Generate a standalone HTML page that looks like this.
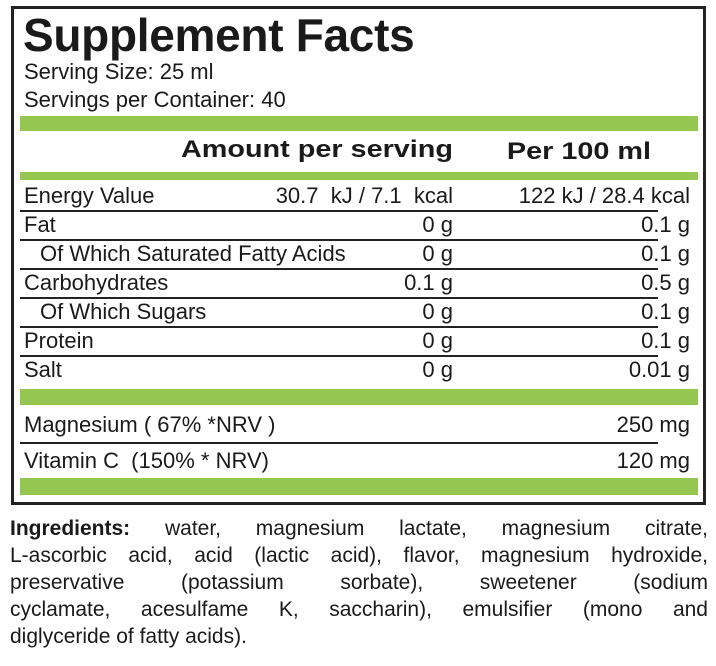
<!DOCTYPE html>
<html><head><style>
body{margin:0;width:716px;height:666px;background:#fff;position:relative;font-family:"Liberation Sans",sans-serif;color:#1a1a1a;overflow:hidden}
.box{position:absolute;left:11px;top:6px;width:689px;height:493px;border:3px solid #222}
.g{position:absolute;left:20px;width:678px;background:#96c652}
.l{position:absolute;left:20px;width:638px;height:2px;background:#222}
.t{position:absolute;white-space:nowrap;font-size:22px;line-height:1}
.r{text-align:right}
.h{transform:scaleX(1.2);transform-origin:right center}
.ing{position:absolute;left:10px;width:698px;font-size:21px;line-height:1;text-align:justify;text-align-last:justify;white-space:nowrap}
</style></head><body>
<div class="box"></div>
<div class="t" style="left:23px;top:12px;font-size:46px;font-weight:bold;letter-spacing:-0.3px">Supplement Facts</div>
<div class="t" style="left:24px;top:61px">Serving Size: 25 ml</div>
<div class="t" style="left:24px;top:89px">Servings per Container: 40</div>
<div class="g" style="top:116px;height:15px"></div>
<div class="t h" style="left:100px;top:138px;font-weight:bold;font-size:24px;width:353px;text-align:right">Amount per serving</div>
<div class="t h" style="left:450px;top:140px;font-weight:bold;font-size:24px;width:201px;text-align:right">Per 100 ml</div>
<div class="g" style="top:172px;height:8px"></div>

<div class="t" style="left:24px;top:185px">Energy Value</div>
<div class="t r" style="left:200px;width:253px;top:185px">30.7&nbsp; kJ / 7.1&nbsp; kcal</div>
<div class="t r" style="left:440px;width:250px;top:185px">122 kJ / 28.4 kcal</div>
<div class="l" style="top:210px"></div>

<div class="t" style="left:24px;top:214px">Fat</div>
<div class="t r" style="left:200px;width:253px;top:214px">0 g</div>
<div class="t r" style="left:460px;width:230px;top:214px">0.1 g</div>
<div class="l" style="top:239px"></div>

<div class="t" style="left:40px;top:243px">Of Which Saturated Fatty Acids</div>
<div class="t r" style="left:360px;width:93px;top:243px">0 g</div>
<div class="t r" style="left:460px;width:230px;top:243px">0.1 g</div>
<div class="l" style="top:268px"></div>

<div class="t" style="left:24px;top:272px">Carbohydrates</div>
<div class="t r" style="left:200px;width:253px;top:272px">0.1 g</div>
<div class="t r" style="left:460px;width:230px;top:272px">0.5 g</div>
<div class="l" style="top:297px"></div>

<div class="t" style="left:40px;top:301px">Of Which Sugars</div>
<div class="t r" style="left:200px;width:253px;top:301px">0 g</div>
<div class="t r" style="left:460px;width:230px;top:301px">0.1 g</div>
<div class="l" style="top:326px"></div>

<div class="t" style="left:24px;top:330px">Protein</div>
<div class="t r" style="left:200px;width:253px;top:330px">0 g</div>
<div class="t r" style="left:460px;width:230px;top:330px">0.1 g</div>
<div class="l" style="top:355px"></div>

<div class="t" style="left:24px;top:359px">Salt</div>
<div class="t r" style="left:200px;width:253px;top:359px">0 g</div>
<div class="t r" style="left:460px;width:230px;top:359px">0.01 g</div>
<div class="g" style="top:389px;height:16px"></div>

<div class="t" style="left:24px;top:414px">Magnesium ( 67% *NRV )</div>
<div class="t r" style="left:460px;width:230px;top:414px">250 mg</div>
<div class="l" style="top:442px"></div>
<div class="t" style="left:24px;top:450px">Vitamin C&nbsp; (150% * NRV)</div>
<div class="t r" style="left:460px;width:230px;top:450px">120 mg</div>
<div class="g" style="top:478px;height:17px"></div>

<div class="ing" style="top:518px"><b>Ingredients:</b> water, magnesium lactate, magnesium citrate,</div>
<div class="ing" style="top:545px">L-ascorbic acid, acid (lactic acid), flavor, magnesium hydroxide,</div>
<div class="ing" style="top:572px">preservative (potassium sorbate), sweetener (sodium</div>
<div class="ing" style="top:599px">cyclamate, acesulfame K, saccharin), emulsifier (mono and</div>
<div class="ing" style="top:626px;text-align-last:left">diglyceride of fatty acids).</div>
</body></html>
